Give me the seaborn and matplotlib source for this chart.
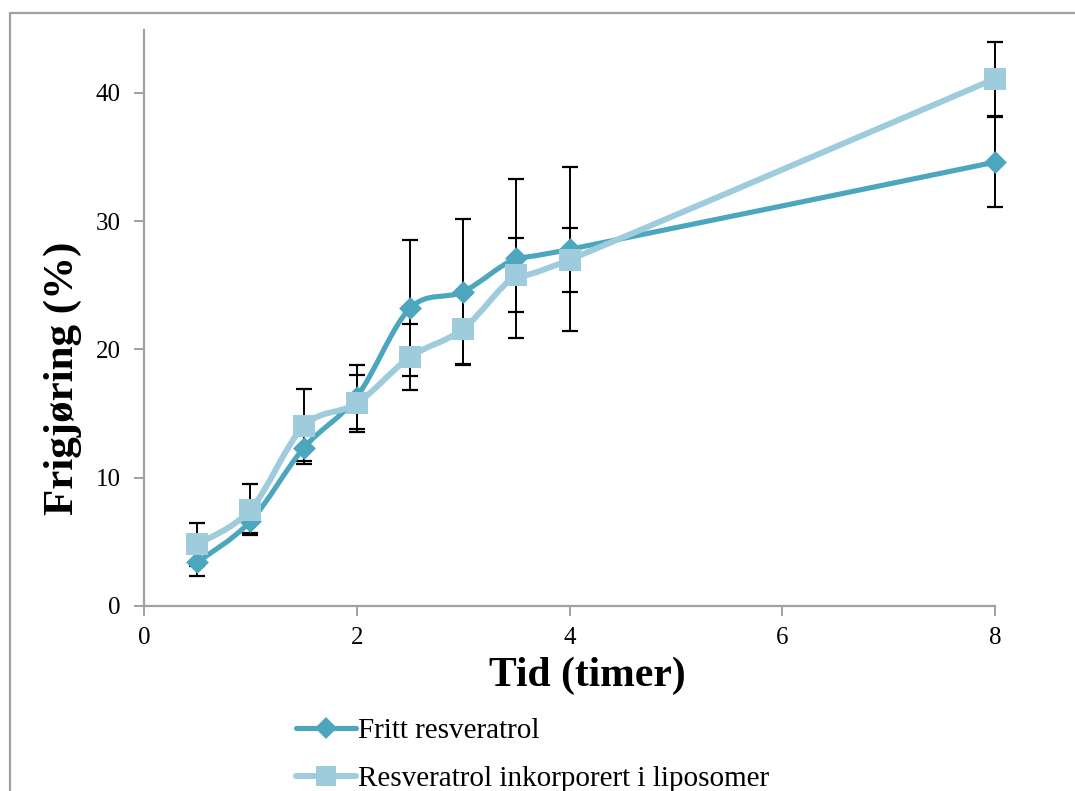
import numpy as np
import pandas as pd
import seaborn as sns
import matplotlib
matplotlib.use("Agg")
import matplotlib.pyplot as plt
from matplotlib.path import Path
from matplotlib.patches import PathPatch, Rectangle
from matplotlib.lines import Line2D

# Release over time (%), mean and error per sampling time
tid = [0.5, 1.0, 1.5, 2.0, 2.5, 3.0, 3.5, 4.0, 8.0]
fritt = [3.4, 6.6, 12.3, 16.3, 23.2, 24.5, 27.1, 27.8, 34.6]
fritt_err = [1.1, 0.9, 1.0, 2.5, 5.3, 5.7, 6.2, 6.4, 3.5]
lipo = [4.8, 7.5, 14.0, 15.8, 19.4, 21.6, 25.8, 27.0, 41.1]
lipo_err = [1.7, 2.0, 2.9, 2.2, 2.6, 2.7, 2.9, 2.5, 2.9]

series_names = ["Fritt resveratrol", "Resveratrol inkorporert i liposomer"]
x_ticks = [0, 2, 4, 6, 8]
y_ticks = [0, 10, 20, 30, 40]

DARK = "#4BA6BE"
LIGHT = "#9ECCDC"
GRAY = "#A0A0A0"

sns.set_theme(style="white")
plt.rcParams["font.family"] = ["Liberation Serif", "DejaVu Serif"]
plt.rcParams["text.color"] = "black"
plt.rcParams["axes.labelcolor"] = "black"

fig = plt.figure(figsize=(10.75, 7.91), dpi=100)
ax = fig.add_axes([144 / 1075, 1 - 606 / 791, (995 - 144) / 1075, (606 - 30) / 791])


def smooth_path(xs, ys):
    """Cubic Bezier path through the points (Catmull-Rom style tangents)."""
    pts = np.column_stack([xs, ys]).astype(float)
    n = len(pts)
    verts = [pts[0]]
    codes = [Path.MOVETO]
    for i in range(n - 1):
        p0 = pts[i - 1] if i > 0 else pts[i]
        p1 = pts[i]
        p2 = pts[i + 1]
        p3 = pts[i + 2] if i + 2 < n else pts[i + 1]
        c1 = p1 + (p2 - p0) / 6.0
        c2 = p2 - (p3 - p1) / 6.0
        verts += [c1, c2, p2]
        codes += [Path.CURVE4] * 3
    return Path(verts, codes)


df = pd.DataFrame({
    "tid": tid * 2,
    "verdi": fritt + lipo,
    "feil": fritt_err + lipo_err,
    "serie": [series_names[0]] * len(tid) + [series_names[1]] * len(tid),
})

# error bars
for name in series_names:
    d = df[df["serie"] == name]
    eb = ax.errorbar(d["tid"], d["verdi"], yerr=d["feil"], fmt="none", ecolor="black",
                     elinewidth=1.4, capsize=5.8, capthick=1.6, zorder=2)
    for artist in eb.lines[1] + eb.lines[2]:
        artist.set_clip_on(False)

# smoothed lines + markers
ax.add_patch(PathPatch(smooth_path(tid, fritt), fill=False, edgecolor=DARK,
                       lw=3.7, capstyle="round", joinstyle="round", zorder=3,
                       clip_on=False))
sns.scatterplot(data=df[df["serie"] == series_names[0]], x="tid", y="verdi",
                marker="D", s=135, color=DARK, linewidth=0, ax=ax, zorder=4,
                legend=False, clip_on=False)
ax.add_patch(PathPatch(smooth_path(tid, lipo), fill=False, edgecolor=LIGHT,
                       lw=4.3, capstyle="round", joinstyle="round", zorder=5,
                       clip_on=False))
sns.scatterplot(data=df[df["serie"] == series_names[1]], x="tid", y="verdi",
                marker="s", s=230, color=LIGHT, linewidth=0, ax=ax, zorder=6,
                legend=False, clip_on=False)

ax.set_xlim(0, 8)
ax.set_ylim(0, 44.9)
ax.set_xticks(x_ticks)
ax.set_yticks(y_ticks)
ax.set_xticklabels([str(v) for v in x_ticks])
ax.set_yticklabels([str(v) for v in y_ticks])

for side in ["top", "right"]:
    ax.spines[side].set_visible(False)
for side in ["left", "bottom"]:
    ax.spines[side].set_color(GRAY)
    ax.spines[side].set_linewidth(1.6)
ax.tick_params(axis="both", which="major", direction="out", length=7, width=1.4,
               color=GRAY, labelsize=18, labelcolor="black")
ax.tick_params(axis="y", pad=10, left=True)
ax.tick_params(axis="x", pad=8, bottom=True)
ax.set_facecolor("white")

ax.set_xlabel("Tid (timer)", fontsize=30, fontweight="bold", va="center")
ax.xaxis.set_label_coords(0.5206, -0.1215)
ax.set_ylabel("Frigjøring (%)", fontsize=31, fontweight="bold", va="center")
ax.yaxis.set_label_coords(-0.0952, 0.396)

handles = [
    Line2D([], [], color=DARK, lw=3.7, marker="D", markersize=11.5, markeredgewidth=0,
           solid_capstyle="round"),
    Line2D([], [], color=LIGHT, lw=4.3, marker="s", markersize=15, markeredgewidth=0,
           solid_capstyle="round"),
]
fig.legend(handles, series_names, loc="upper left",
           bbox_to_anchor=(296 / 1075, 1 - 718 / 791), frameon=False, fontsize=21,
           handlelength=2.05, handletextpad=0.08, labelspacing=0.72, borderpad=0,
           borderaxespad=0)

# outer frame
fig.patches.append(Rectangle((10 / 1075, -0.01), 1.02, 1 - 13 / 791 + 0.01,
                             transform=fig.transFigure, fill=False, edgecolor=GRAY,
                             lw=1.6, zorder=0))

fig.savefig("out.png", dpi=100, facecolor="white")
